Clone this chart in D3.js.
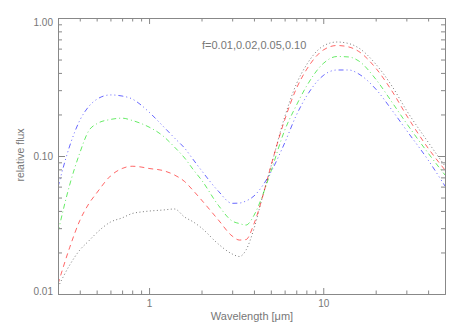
<!DOCTYPE html>
<html>
<head>
<meta charset="utf-8">
<script src="https://cdn.jsdelivr.net/npm/d3@7"></script>
<style>
body { margin: 0; background: #fff; }
svg text { font-family: "Liberation Sans", "DejaVu Sans", sans-serif; fill: #777; }
</style>
</head>
<body>
<div id="chart"></div>
<script>
// data ----------------------------------------------------------------------------------------
const wavelength = [0.3, 0.35, 0.4, 0.45, 0.5, 0.6, 0.7, 0.8, 0.9, 1.0, 1.2, 1.4, 1.6, 1.8, 2.0,
  2.5, 3.0, 3.3, 3.6, 4.0, 4.5, 5, 6, 7, 8, 10, 12, 14, 16, 20, 25, 30, 40, 50];
const flux001 = [0.0112, 0.0162, 0.0208, 0.0242, 0.0277, 0.0332, 0.0356, 0.0383, 0.0393, 0.0399, 0.0406,
  0.0413, 0.0361, 0.0332, 0.0301, 0.0230, 0.0195, 0.0187, 0.0208, 0.0297, 0.0519, 0.0831, 0.191,
  0.331, 0.456, 0.627, 0.670, 0.653, 0.606, 0.464, 0.316, 0.215, 0.126, 0.0846];
const flux002 = [0.0118, 0.0217, 0.0340, 0.0449, 0.0539, 0.0716, 0.0812, 0.0843, 0.0832, 0.0812, 0.0785,
  0.0728, 0.0653, 0.0558, 0.0480, 0.0344, 0.0263, 0.0246, 0.0248, 0.0322, 0.0514, 0.0842, 0.182,
  0.307, 0.421, 0.586, 0.632, 0.617, 0.572, 0.434, 0.291, 0.198, 0.114, 0.0792];
const flux005 = [0.0281, 0.0617, 0.1051, 0.152, 0.171, 0.184, 0.188, 0.181, 0.172, 0.162, 0.140,
  0.116, 0.0967, 0.0792, 0.0670, 0.0439, 0.0338, 0.0324, 0.0316, 0.0371, 0.0525, 0.0769, 0.153,
  0.232, 0.319, 0.468, 0.526, 0.522, 0.488, 0.361, 0.242, 0.173, 0.105, 0.0728];
const flux010 = [0.0596, 0.118, 0.181, 0.228, 0.257, 0.277, 0.272, 0.259, 0.234, 0.208, 0.165,
  0.135, 0.114, 0.0935, 0.0785, 0.0556, 0.0454, 0.0456, 0.0472, 0.0513, 0.0613, 0.0763, 0.124,
  0.197, 0.270, 0.383, 0.420, 0.420, 0.393, 0.306, 0.212, 0.154, 0.0935, 0.0606];
const xMajor = [1, 10];
const xMinor = [0.3, 0.4, 0.5, 0.6, 0.7, 0.8, 0.9, 2, 3, 4, 5, 6, 7, 8, 9, 20, 30, 40, 50];
const yMajor = [0.01, 0.1, 1];
const yMinor = [0.02, 0.03, 0.04, 0.05, 0.06, 0.07, 0.08, 0.09, 0.2, 0.3, 0.4, 0.5, 0.6, 0.7, 0.8, 0.9];
const yTickLabels = ['0.01', '0.10', '1.00'];
const annotation = 'f=0.01,0.02,0.05,0.10';

// SVG ----------------------------------------------------------------------------------------
const width = 463;
const height = 331;
const margin = { top: 18, bottom: 37, left: 58, right: 18 };
const svg = d3.select('#chart').append('svg')
  .attr('width', width)
  .attr('height', height);

// scales --------------------------------------------------------------------------------------
const xScale = d3.scaleLog().domain([0.3, 50]).range([margin.left, width - margin.right]);
const yScale = d3.scaleLog().domain([0.01, 1]).range([height - margin.bottom, margin.top]);
const axisColor = '#888';

// curves --------------------------------------------------------------------------------------
svg.append('clipPath').attr('id', 'clip')
  .append('rect')
  .attr('x', margin.left).attr('y', margin.top)
  .attr('width', width - margin.left - margin.right)
  .attr('height', height - margin.top - margin.bottom);

const series = [
  { values: flux001, color: '#222', dash: '1,2.5' },
  { values: flux002, color: '#f00', dash: '5,4' },
  { values: flux005, color: '#0d0', dash: '5,3,1,3' },
  { values: flux010, color: '#00f', dash: '5,3,1,3,1,3,1,3' }
];
const line = d3.line()
  .x(d => xScale(d[0]))
  .y(d => yScale(d[1]))
  .curve(d3.curveMonotoneX);
svg.append('g').attr('clip-path', 'url(#clip)')
  .selectAll('path')
  .data(series)
  .enter()
  .append('path')
  .attr('d', s => line(wavelength.map((w, i) => [w, s.values[i]])))
  .attr('fill', 'none')
  .attr('stroke', s => s.color)
  .attr('stroke-width', 1)
  .attr('stroke-opacity', 0.6)
  .attr('stroke-dasharray', s => s.dash);

// axes ----------------------------------------------------------------------------------------
const bottomY = height - margin.bottom;
const rightX = width - margin.right;
const drawAxis = (axis, transform) => {
  const g = svg.append('g').attr('transform', transform).call(axis);
  g.selectAll('path, line').attr('stroke', axisColor);
  return g;
};
// x
drawAxis(d3.axisBottom(xScale).tickValues(xMinor).tickSize(-3.5).tickSizeOuter(0).tickFormat(''),
  'translate(0,' + bottomY + ')');
const xLab = drawAxis(d3.axisBottom(xScale).tickValues(xMajor).tickSize(-6).tickSizeOuter(0)
  .tickPadding(6).tickFormat(d3.format('d')), 'translate(0,' + bottomY + ')');
xLab.selectAll('text').attr('font-size', '10px').attr('fill', '#777');
drawAxis(d3.axisTop(xScale).tickValues(xMinor).tickSize(-3.5).tickSizeOuter(0).tickFormat(''),
  'translate(0,' + margin.top + ')');
drawAxis(d3.axisTop(xScale).tickValues(xMajor).tickSize(-6).tickSizeOuter(0).tickFormat(''),
  'translate(0,' + margin.top + ')');
// y
drawAxis(d3.axisLeft(yScale).tickValues(yMinor).tickSize(-4).tickSizeOuter(0).tickFormat(''),
  'translate(' + margin.left + ',0)');
const yLab = drawAxis(d3.axisLeft(yScale).tickValues(yMajor).tickSize(-7).tickSizeOuter(0)
  .tickPadding(5).tickFormat((d, i) => yTickLabels[i]), 'translate(' + margin.left + ',0)');
yLab.selectAll('text')
  .attr('font-size', '10px')
  .attr('fill', '#777')
  .attr('dy', d => d === 1 ? '0.7em' : d === 0.01 ? '0.05em' : '0.35em');
drawAxis(d3.axisRight(yScale).tickValues(yMinor).tickSize(-4).tickSizeOuter(0).tickFormat(''),
  'translate(' + rightX + ',0)');
drawAxis(d3.axisRight(yScale).tickValues(yMajor).tickSize(-7).tickSizeOuter(0).tickFormat(''),
  'translate(' + rightX + ',0)');

// labels --------------------------------------------------------------------------------------
const xTitle = svg.append('text')
  .attr('x', 252)
  .attr('y', 319.5)
  .attr('text-anchor', 'middle')
  .attr('font-size', '11px');
xTitle.append('tspan').text('Wavelength [');
xTitle.append('tspan').text('\u03bc');
xTitle.append('tspan').text('m]');

svg.append('text')
  .attr('transform', 'translate(24,155) rotate(-90)')
  .attr('text-anchor', 'middle')
  .attr('font-size', '10.5px')
  .text('relative flux');

svg.append('text')
  .attr('x', 202)
  .attr('y', 48.5)
  .attr('font-size', '11px')
  .text(annotation);
</script>
</body>
</html>
